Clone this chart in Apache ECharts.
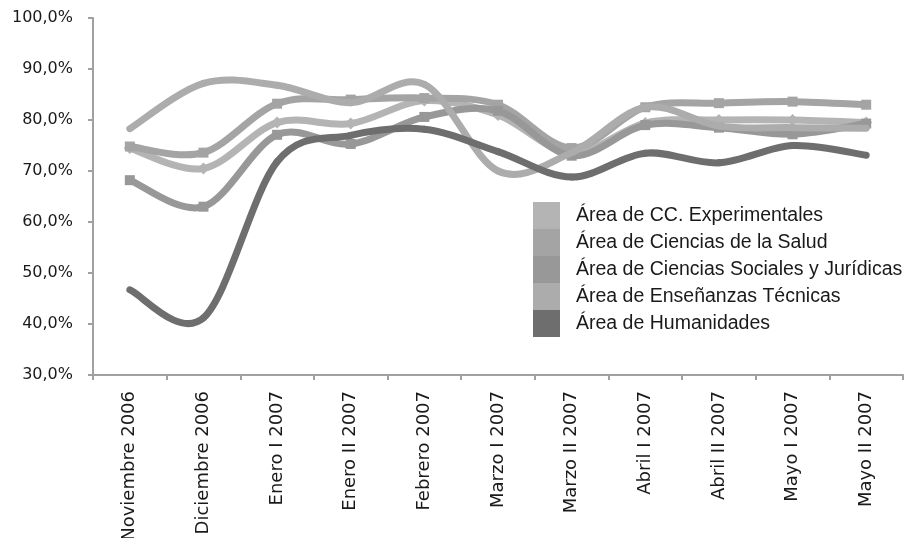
<!DOCTYPE html>
<html>
<head>
<meta charset="utf-8">
<script src="https://cdn.jsdelivr.net/npm/echarts@6/dist/echarts.min.js"></script>
<style>html,body{margin:0;padding:0;background:#fff}#c{width:911px;height:538px}</style>
</head>
<body>
<div id="c"></div>
<script>
var categories = ["Noviembre 2006","Diciembre 2006","Enero I 2007","Enero II 2007","Febrero 2007","Marzo I 2007","Marzo II 2007","Abril I 2007","Abril II 2007","Mayo I 2007","Mayo II 2007"];
var seriesNames = ["Área de CC. Experimentales","Área de Ciencias de la Salud","Área de Ciencias Sociales y Jurídicas","Área de Enseñanzas Técnicas","Área de Humanidades"];
var experimentales = [74.5, 70.5, 79.5, 79.3, 83.8, 81.0, 73.5, 79.4, 80.0, 80.0, 79.5];
var salud          = [74.8, 73.6, 83.2, 84.0, 84.3, 83.0, 74.5, 82.5, 83.3, 83.6, 83.0];
var sociales       = [68.2, 63.0, 77.1, 75.3, 80.6, 81.8, 73.0, 79.0, 78.5, 77.2, 79.3];
var tecnicas       = [78.3, 87.2, 86.8, 83.4, 87.0, 70.0, 73.6, 82.5, 78.8, 78.5, 78.4];
var humanidades    = [46.7, 41.2, 71.8, 77.0, 78.2, 73.8, 68.8, 73.5, 71.6, 75.0, 73.1];
var yTicks = [30, 40, 50, 60, 70, 80, 90, 100];

var colors = ["#b4b4b4", "#a4a4a4", "#989898", "#acacac", "#6e6e6e"];
var markers = ["diamond", "square", "square", "none", "none"];
var dataArr = [experimentales, salud, sociales, tecnicas, humanidades];

function makeRenderer(vals, color, marker) {
  var n = vals.length;
  return function (params, api) {
    var i = params.dataIndex;
    function pt(k) {
      k = Math.max(0, Math.min(n - 1, k));
      return api.coord([k, vals[k]]);
    }
    var children = [];
    if (i < n - 1) {
      var p0 = pt(i - 1), p1 = pt(i), p2 = pt(i + 1), p3 = pt(i + 2);
      children.push({
        type: 'bezierCurve',
        shape: {
          x1: p1[0], y1: p1[1], x2: p2[0], y2: p2[1],
          cpx1: p1[0] + (p2[0] - p0[0]) / 6, cpy1: p1[1] + (p2[1] - p0[1]) / 6,
          cpx2: p2[0] - (p3[0] - p1[0]) / 6, cpy2: p2[1] - (p3[1] - p1[1]) / 6
        },
        style: {stroke: color, lineWidth: 7, fill: null, lineCap: 'round', lineJoin: 'round'},
        z2: 1
      });
    }
    var c = pt(i);
    var s = 5;
    if (marker === 'diamond') {
      children.push({type: 'polygon', shape: {points: [[c[0], c[1] - s - 1], [c[0] + s + 1, c[1]], [c[0], c[1] + s + 1], [c[0] - s - 1, c[1]]]},
        style: {fill: color}, z2: 2});
    } else if (marker === 'square') {
      children.push({type: 'rect', shape: {x: c[0] - s, y: c[1] - s, width: 2 * s, height: 2 * s},
        style: {fill: color}, z2: 2});
    }
    return {type: 'group', children: children};
  };
}

var chart = echarts.init(document.getElementById('c'), null, {renderer: 'canvas'});
var series = seriesNames.map(function (name, si) {
  return {
    name: name,
    type: 'custom',
    coordinateSystem: 'cartesian2d',
    data: dataArr[si].map(function (v, k) { return [k, v]; }),
    encode: {x: 0, y: 1},
    renderItem: makeRenderer(dataArr[si], colors[si], markers[si]),
    itemStyle: {color: colors[si]},
    z: 2 + si,
    animation: false,
    silent: true
  };
});
chart.setOption({
  animation: false,
  color: colors,
  grid: {left: 93, right: 8, top: 18, bottom: 163, containLabel: false, outerBoundsMode: 'none'},
  legend: {
    orient: 'vertical',
    left: 528,
    top: 197,
    itemWidth: 27,
    itemHeight: 27,
    itemGap: 0,
    icon: 'rect',
    textStyle: {fontFamily: 'Liberation Sans, Arial, sans-serif', fontSize: 19.5, color: '#1a1a1a', padding: [0, 0, 0, 11]},
    data: seriesNames.map(function (n, i) { return {name: n, icon: 'rect', itemStyle: {color: colors[i]}}; })
  },
  xAxis: {
    type: 'category',
    data: categories,
    boundaryGap: true,
    axisLine: {lineStyle: {color: '#a0a0a0', width: 2}},
    axisTick: {show: true, length: 5, lineStyle: {color: '#a0a0a0', width: 2}},
    axisLabel: {rotate: 90, margin: 16, fontFamily: 'DejaVu Sans, Verdana, sans-serif', fontSize: 18, color: '#1a1a1a', interval: 0}
  },
  yAxis: {
    type: 'value',
    min: 30,
    max: 100,
    interval: 10,
    splitLine: {show: false},
    axisLine: {show: true, lineStyle: {color: '#a0a0a0', width: 2}},
    axisTick: {show: true, length: 5, lineStyle: {color: '#a0a0a0', width: 2}},
    axisLabel: {margin: 20, fontFamily: 'DejaVu Sans, Verdana, sans-serif', fontSize: 16, color: '#1a1a1a',
      formatter: function (v) { return yTicks.indexOf(v) >= 0 ? v.toFixed(1).replace('.', ',') + '%' : ''; }}
  },
  series: series
});
</script>
</body>
</html>
